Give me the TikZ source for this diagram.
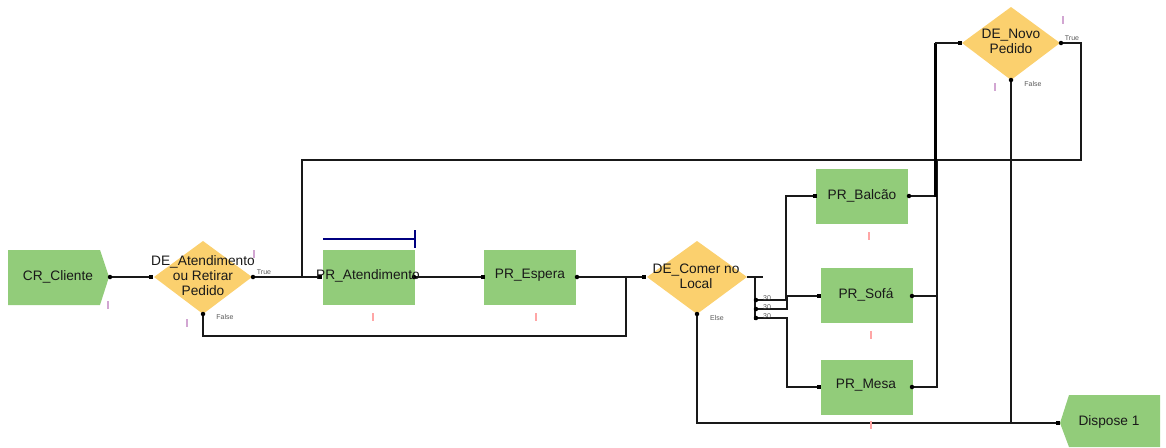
\documentclass[tikz,border=0pt]{standalone}
\usepackage{fontspec}
\setmainfont{Liberation Sans}
\tikzset{
  x=1pt,y=-1pt,
  modfill/.style={fill=boxgreen,draw=none},
  procbox/.style={modfill,rectangle,minimum width=92pt,minimum height=55pt,inner sep=0pt},
  deci/.style={fill=decifill,draw=none},
  lab/.style={font=\fontsize{13.7}{14.8}\selectfont,text=black!90,align=center,inner sep=0pt},
  tiny/.style={font=\fontsize{7}{8}\selectfont,text=black!65,inner sep=0pt},
  conn/.style={draw=black!90,line width=1.5pt},
  port/.style={fill=black,draw=none,rectangle,minimum size=4.5pt,inner sep=0pt},
  dot/.style={fill=black,draw=none,circle,minimum size=4.5pt,inner sep=0pt},
  lavmark/.style={fill=violet!35,draw=none,rectangle,minimum width=2.5pt,minimum height=8pt,inner sep=0pt},
  pinkmark/.style={fill=red!35,draw=none,rectangle,minimum width=2.5pt,minimum height=8pt,inner sep=0pt},
}
\definecolor{boxgreen}{HTML}{92CC7A}
\definecolor{decifill}{HTML}{FBD06E}
\begin{document}
\begin{tikzpicture}
\useasboundingbox (0,0) rectangle (1166,447);
% shapes
\fill[modfill] (8,250) -- (100,250) -- (109,277) -- (100,305) -- (8,305) -- cycle;
\fill[modfill] (1060,423) -- (1069,395) -- (1160,395) -- (1160,447) -- (1069,447) -- cycle;
\fill[deci] (154,277) -- (203,241) -- (252,277) -- (203,314) -- cycle;
\fill[deci] (647,277) -- (697,241) -- (747,277) -- (697,314) -- cycle;
\fill[deci] (962,43) -- (1011,7) -- (1060,43) -- (1011,80) -- cycle;
\node[procbox] (aten) at (368.5,277.5) {};
\node[procbox] (esp) at (530,277.5) {};
\node[procbox] (balc) at (862,196.5) {};
\node[procbox] (sofa) at (866.5,295.5) {};
\node[procbox] (mesa) at (866.5,387.5) {};
% named anchors
\coordinate (crO) at (110,277);
\coordinate (d1I) at (151,277);
\coordinate (d1T) at (253,277);
\coordinate (d1F) at (203,314);
\coordinate (atI) at (320,277);
\coordinate (atO) at (414,277);
\coordinate (esI) at (483,277);
\coordinate (esO) at (577,277);
\coordinate (d2I) at (644,277);
\coordinate (d2F) at (697,314);
\coordinate (d2O) at (763,277);
\coordinate (baI) at (815,196);
\coordinate (baO) at (909,196);
\coordinate (soI) at (819,296);
\coordinate (soO) at (912,296);
\coordinate (meI) at (819,387);
\coordinate (meO) at (912,387);
\coordinate (d3I) at (960,43);
\coordinate (d3T) at (1061,43);
\coordinate (d3F) at (1011,80);
\coordinate (diI) at (1058,423);
% connectors
\draw[conn] (crO) -- (d1I);
\draw[conn] (d1T) -- (atI);
\draw[conn] (302,277) -- (302,160) -- (1081,160) -- (1081,43) -- (d3T);
\draw[conn] (d1F) -- (203,336) -- (626,336) -- (626,277);
\draw[conn] (atO) -- (esI);
\draw[conn] (esO) -- (d2I);
\draw[conn] (747,277) -- (d2O);
\draw[conn] (755,277) -- (755,320);
\draw[conn] (755,300) -- (786,300) -- (786,196) -- (baI);
\draw[conn] (755,309) -- (787,309) -- (787,296) -- (soI);
\draw[conn] (755,318) -- (787,318) -- (787,387) -- (meI);
\draw[conn] (baO) -- (936,196);
\draw[conn] (soO) -- (936,296);
\draw[conn] (meO) -- (937,387) -- (937,160);
\draw[black,line width=3pt] (935.5,197) -- (935.5,43);
\draw[conn] (935,43) -- (d3I);
\draw[conn] (d3F) -- (1011,423);
\draw[conn] (d2F) -- (697,423) -- (diI);
\draw[draw=blue!50!black,line width=1.2pt] (323,239) -- (415,239) (415,230) -- (415,248);
% ports
\foreach \p in {d1I,atI,esI,d2I,baI,soI,meI,d3I,diI}
  \node[port] at (\p) {};
\foreach \p in {crO,d1T,d1F,atO,esO,d2F,baO,soO,meO,d3T,d3F}
  \node[dot] at (\p) {};
\foreach \yy in {300,309,318}
  \node[dot] at (756,\yy) {};
% labels
\node[lab] at (58,277) {CR\_Cliente};
\node[lab] at (203,275.5) {DE\_Atendimento\\ou Retirar\\Pedido};
\node[lab] at (368,276) {PR\_Atendimento};
\node[lab] at (530,275) {PR\_Espera};
\node[lab] at (696,276) {DE\_Comer no\\Local};
\node[lab] at (862,195.5) {PR\_Balcão};
\node[lab] at (866,294.5) {PR\_Sofá};
\node[lab] at (866,385.5) {PR\_Mesa};
\node[lab] at (1011,41) {DE\_Novo\\Pedido};
\node[lab] at (1109,422) {Dispose 1};
\node[tiny] at (264,272) {True};
\node[tiny] at (225,317) {False};
\node[tiny] at (717,318) {Else};
\node[tiny] at (1072,38) {True};
\node[tiny] at (1033,84) {False};
\node[tiny] at (767,298.5) {30};
\node[tiny] at (767,307.5) {30};
\node[tiny] at (767,316.5) {30};
% small marks
\foreach \mx/\my in {108/305,254/254,187/323,995/87,1063/20}
  \node[lavmark] at (\mx,\my) {};
\foreach \mx/\my in {373/317,536/317,869/236,871/335,871/425}
  \node[pinkmark] at (\mx,\my) {};
\end{tikzpicture}
\end{document}
